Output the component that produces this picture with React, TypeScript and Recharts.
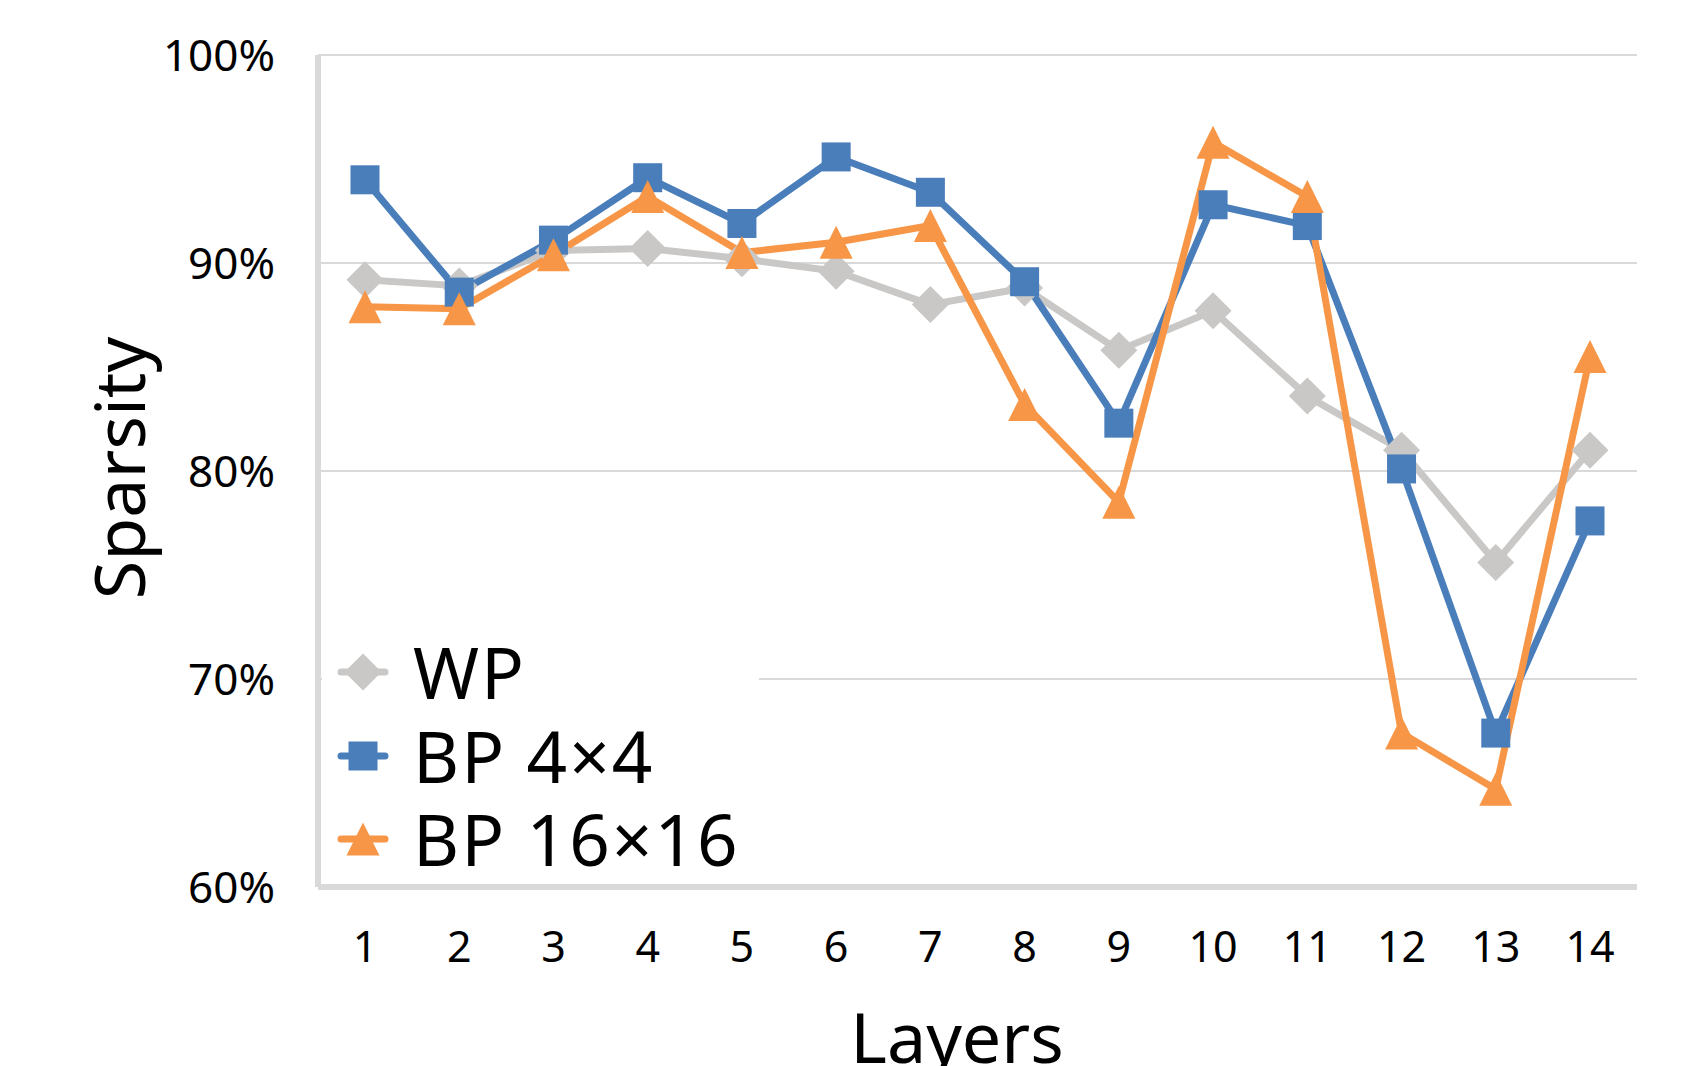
import { LineChart, Line, XAxis, YAxis, CartesianGrid, Legend, Label } from 'recharts'

const layers = ['1', '2', '3', '4', '5', '6', '7', '8', '9', '10', '11', '12', '13', '14']
const wp = [89.2, 88.9, 90.6, 90.7, 90.2, 89.6, 88.0, 88.8, 85.8, 87.7, 83.6, 81.0, 75.6, 81.0]
const bp4x4 = [94.0, 88.6, 91.1, 94.1, 91.9, 95.1, 93.4, 89.1, 82.3, 92.8, 91.8, 80.1, 67.4, 77.6]
const bp16x16 = [87.9, 87.8, 90.4, 93.2, 90.5, 91.0, 91.8, 83.2, 78.5, 95.8, 93.2, 67.4, 64.7, 85.5]
const yTicks = [60, 70, 80, 90, 100]

const FONT = '"Noto Sans", "Open Sans", sans-serif'

const SERIES = [
  { key: 'wp', name: 'WP', color: '#C9C8C6', shape: 'diamond' },
  { key: 'bp4x4', name: 'BP 4×4', color: '#4A7EBB', shape: 'square' },
  { key: 'bp16x16', name: 'BP 16×16', color: '#F79646', shape: 'triangle' },
]

const data = layers.map((layer, i) => ({
  layer,
  wp: wp[i],
  bp4x4: bp4x4[i],
  bp16x16: bp16x16[i],
}))

function Marker({ shape, cx, cy, color }: { shape: string; cx: number; cy: number; color: string }) {
  if (shape === 'square') {
    const s = 29
    return <rect x={cx - s / 2} y={cy - s / 2} width={s} height={s} fill={color} />
  }
  if (shape === 'triangle') {
    const s = 33
    const pts = `${cx},${cy - s / 2} ${cx - s / 2},${cy + s / 2} ${cx + s / 2},${cy + s / 2}`
    return <polygon points={pts} fill={color} />
  }
  const r = 18.5
  const pts = `${cx},${cy - r} ${cx + r},${cy} ${cx},${cy + r} ${cx - r},${cy}`
  return <polygon points={pts} fill={color} />
}

// legend sits inside the plot, bottom left, on a white box that hides the 70% gridline
function LegendBox() {
  return (
    <div style={{ width: 437, height: 294, background: '#fff', position: 'relative' }}>
      {SERIES.map((s, i) => (
        <div
          key={s.key}
          style={{
            position: 'absolute',
            left: 0,
            top: 84 + i * 83.5 - 35,
            height: 70,
            display: 'flex',
            alignItems: 'center',
          }}
        >
          <svg width={86} height={70} style={{ display: 'block' }}>
            <line x1={19} y1={35} x2={63} y2={35} stroke={s.color} strokeWidth={7} strokeLinecap="round" />
            <Marker shape={s.shape} cx={41} cy={35} color={s.color} />
          </svg>
          <span
            style={{
              marginLeft: 5,
              fontFamily: FONT,
              fontSize: 71,
              letterSpacing: 2,
              lineHeight: '70px',
              color: '#000',
              whiteSpace: 'nowrap',
            }}
          >
            {s.name}
          </span>
        </div>
      ))}
    </div>
  )
}

export default function App() {
  return (
    <div style={{ position: 'absolute', left: 0, top: 0, width: 1708, height: 1066, background: '#fff' }}>
      <LineChart width={1708} height={1066} data={data} margin={{ top: 55, right: 71, left: 198, bottom: 79 }}>
        <CartesianGrid vertical={false} stroke="#D9D9D9" strokeWidth={2} />
        <XAxis
          dataKey="layer"
          height={100}
          padding={{ left: 47, right: 47 }}
          axisLine={{ stroke: '#D9D9D9', strokeWidth: 6 }}
          tickLine={false}
          tickSize={0}
          tickMargin={44}
          tick={{ fontSize: 43, fill: '#000', fontFamily: FONT }}
          interval={0}
        >
          <Label
            content={() => (
              <text x={957} y={1063} textAnchor="middle" fontSize={70} fontFamily={FONT} fill="#000">
                Layers
              </text>
            )}
          />
        </XAxis>
        <YAxis
          width={120}
          domain={[60, 100]}
          ticks={yTicks}
          tickFormatter={(v) => `${v}%`}
          axisLine={{ stroke: '#D9D9D9', strokeWidth: 6 }}
          tickLine={false}
          tickSize={0}
          tickMargin={43}
          tick={{ fontSize: 44, fill: '#000', fontFamily: FONT }}
        >
          <Label
            content={() => (
              <text
                x={145}
                y={468}
                transform="rotate(-90, 145, 468)"
                textAnchor="middle"
                fontSize={70}
                fontFamily={FONT}
                fill="#000"
              >
                Sparsity
              </text>
            )}
          />
        </YAxis>
        <Legend
          layout="horizontal"
          align="center"
          verticalAlign="middle"
          content={() => <LegendBox />}
          wrapperStyle={{ left: 322, top: 588, width: 437, height: 294 }}
        />
        {SERIES.map((s) => (
          <Line
            key={s.key}
            type="linear"
            dataKey={s.key}
            name={s.name}
            stroke={s.color}
            strokeWidth={7}
            strokeLinejoin="round"
            isAnimationActive={false}
            dot={(p: any) => <Marker key={`${s.key}-${p.index}`} shape={s.shape} cx={p.cx} cy={p.cy} color={s.color} />}
            activeDot={false}
          />
        ))}
      </LineChart>
    </div>
  )
}
